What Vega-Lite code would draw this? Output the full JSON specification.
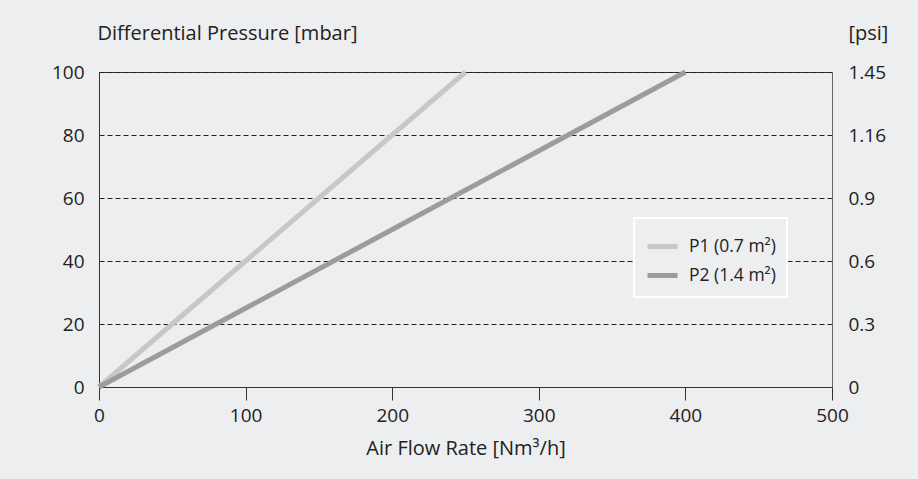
{
  "$schema": "https://vega.github.io/schema/vega-lite/v6.json",
  "width": 733,
  "height": 315,
  "autosize": {"type": "none"},
  "padding": {"left": 99, "top": 72, "right": 86, "bottom": 92},
  "background": "#edeef0",
  "config": {
    "font": "Open Sans",
    "view": {"stroke": "#333333", "strokeWidth": 1, "fill": "#edeef0"},
    "axis": {"labelColor": "#222222", "titleColor": "#222222", "labelFontSize": 19, "titleFontSize": 20, "titleFontWeight": "normal", "labelFont": "Open Sans", "titleFont": "Open Sans", "labelFlush": false},
    "legend": {"labelFont": "Open Sans", "labelFontSize": 17.5, "labelColor": "#222222", "strokeWidth": 2}
  },
  "data": {
    "values": [
      {"flow": 0, "dp": 0, "series": "P1"},
      {"flow": 100, "dp": 40, "series": "P1"},
      {"flow": 250, "dp": 100, "series": "P1"},
      {"flow": 0, "dp": 0, "series": "P2"},
      {"flow": 200, "dp": 50, "series": "P2"},
      {"flow": 400, "dp": 100, "series": "P2"}
    ]
  },
  "layer": [
    {
      "mark": {"type": "line", "strokeWidth": 5, "strokeCap": "butt"},
      "encoding": {
        "x": {
          "field": "flow", "type": "quantitative",
          "scale": {"domain": [0, 500], "nice": false},
          "axis": {
            "title": "Air Flow Rate [Nm³/h]",
            "values": [0, 100, 200, 300, 400, 500],
            "grid": false, "domain": true, "domainColor": "#333333",
            "ticks": true, "tickSize": 13, "tickColor": "#333333",
            "labelPadding": 6, "labelBaseline": "top", "labelFlush": false,
            "titleY": 61, "titleBaseline": "middle"
          }
        },
        "y": {
          "field": "dp", "type": "quantitative",
          "scale": {"domain": [0, 100], "nice": false},
          "axis": {
            "orient": "left",
            "title": "Differential Pressure [mbar]",
            "values": [0, 20, 40, 60, 80, 100],
            "grid": true, "gridColor": "#222222", "gridDash": [5, 3], "gridWidth": 1,
            "domain": true, "domainColor": "#333333",
            "ticks": false, "labelPadding": 15, "labelFlush": false,
            "titleAngle": 0, "titleAlign": "left", "titleBaseline": "middle",
            "titleX": -2, "titleY": -39
          }
        },
        "color": {
          "field": "series", "type": "nominal",
          "scale": {"domain": ["P1", "P2"], "range": ["#c6c7c9", "#9b9c9e"]},
          "legend": {
            "title": null, "orient": "none", "legendX": 535, "legendY": 146,
            "fillColor": "#edeef0", "strokeColor": "#ffffff",
            "padding": 11, "symbolType": "stroke", "symbolSize": 900,
            "symbolStrokeWidth": 5, "labelOffset": 9, "rowPadding": 1,
            "labelExpr": "datum.label == 'P1' ? 'P1 (0.7 m²)' : 'P2 (1.4 m²)'"
          }
        }
      }
    },
    {
      "mark": {"type": "line", "opacity": 0},
      "encoding": {
        "x": {"field": "flow", "type": "quantitative", "scale": {"domain": [0, 500], "nice": false}},
        "y": {
          "field": "dp", "type": "quantitative",
          "scale": {"domain": [0, 100], "nice": false},
          "axis": {
            "orient": "right",
            "title": "[psi]",
            "values": [0, 20, 40, 60, 80, 100],
            "labelExpr": "datum.value == 0 ? '0' : datum.value == 20 ? '0.3' : datum.value == 40 ? '0.6' : datum.value == 60 ? '0.9' : datum.value == 80 ? '1.16' : '1.45'",
            "grid": false, "domain": true, "domainColor": "#666666",
            "ticks": false, "labelPadding": 16, "labelFlush": false,
            "titleAngle": 0, "titleAlign": "left", "titleBaseline": "middle",
            "titleX": 16, "titleY": -39
          }
        },
        "detail": {"field": "series", "type": "nominal"}
      }
    }
  ],
  "resolve": {"scale": {"y": "independent"}}
}
